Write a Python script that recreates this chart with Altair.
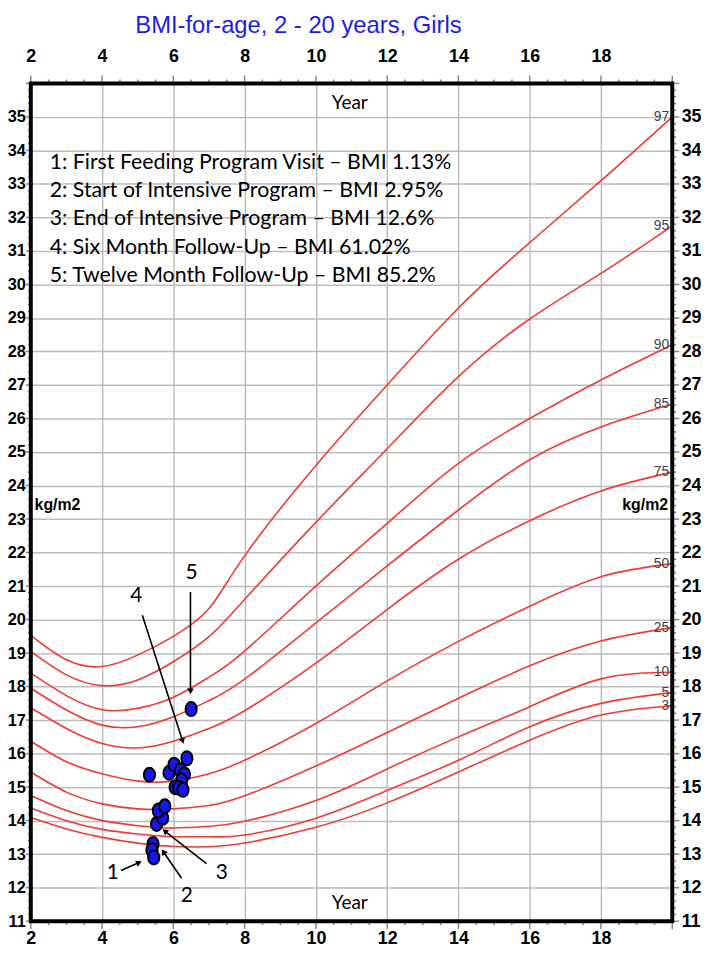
import pandas as pd
import numpy as np
import altair as alt

# BMI percentile curves for girls (kg/m2)
ages = [2, 3, 4, 5, 6, 7, 8, 10, 12, 14, 16, 18, 20]
p97 = [19.53, 18.80, 18.60, 18.94, 19.50, 20.33, 21.90, 24.60, 27.00, 29.30, 31.25, 33.10, 35.00]
p95 = [19.05, 18.35, 18.03, 18.20, 18.74, 19.49, 20.60, 22.90, 25.10, 27.25, 28.97, 30.33, 31.75]
p90 = [18.40, 17.73, 17.31, 17.35, 17.68, 18.28, 19.06, 21.00, 22.87, 24.66, 26.00, 27.15, 28.20]
p85 = [17.95, 17.30, 16.85, 16.80, 17.10, 17.58, 18.22, 19.90, 21.60, 23.27, 24.77, 25.75, 26.43]
p75 = [17.37, 16.75, 16.30, 16.17, 16.37, 16.75, 17.28, 18.70, 20.30, 21.80, 22.95, 23.84, 24.40]
p50 = [16.37, 15.76, 15.40, 15.18, 15.18, 15.40, 15.80, 16.90, 18.17, 19.35, 20.40, 21.28, 21.67]
p25 = [15.45, 14.85, 14.50, 14.35, 14.35, 14.45, 14.74, 15.63, 16.63, 17.65, 18.62, 19.36, 19.76]
p10 = [14.75, 14.30, 14.00, 13.85, 13.78, 13.83, 13.98, 14.60, 15.54, 16.50, 17.40, 18.23, 18.43]
p5 = [14.38, 14.00, 13.74, 13.60, 13.52, 13.52, 13.57, 14.07, 14.90, 15.80, 16.80, 17.50, 17.82]
p3 = [14.09, 13.75, 13.50, 13.33, 13.23, 13.22, 13.33, 13.80, 14.53, 15.45, 16.40, 17.15, 17.43]
pct_names = ["97", "95", "90", "85", "75", "50", "25", "10", "5", "3"]
pct_series = [p97, p95, p90, p85, p75, p50, p25, p10, p5, p3]
pct_label_shift = [-2, -1, -1, 0, 0, 0, 0, -3, 3, 10]

# the child's visits
visit_age = [5.43, 5.40, 5.45, 5.53, 5.70, 5.58, 5.76, 5.33, 5.88, 6.02,
             6.38, 6.20, 6.31, 6.23, 6.05, 6.15, 6.27, 6.50]
visit_bmi = [13.30, 13.12, 12.90, 13.90, 14.08, 14.30, 14.43, 15.37, 15.43, 15.67,
             15.86, 15.50, 15.38, 15.20, 15.00, 14.98, 14.92, 17.33]

# numbered arrows
arrow_num = ["1", "2", "3", "4", "5"]
arrow_tail_age = [4.53, 6.23, 6.93, 5.13, 6.48]
arrow_tail_bmi = [12.51, 12.28, 12.72, 20.13, 20.82]
arrow_head_age = [5.04, 5.72, 5.76, 6.26, 6.48]
arrow_head_bmi = [12.75, 13.07, 13.69, 16.38, 17.86]
num_age = [4.30, 6.38, 7.36, 4.96, 6.51]
num_bmi = [12.43, 11.74, 12.43, 20.71, 21.39]

legend_lines = [
    "1: First Feeding Program Visit \u2013 BMI 1.13%",
    "2: Start of Intensive Program \u2013 BMI 2.95%",
    "3: End of Intensive Program \u2013 BMI 12.6%",
    "4: Six Month Follow-Up \u2013 BMI 61.02%",
    "5: Twelve Month Follow-Up \u2013 BMI 85.2%",
]
legend_bmi = [33.63, 32.80, 31.94, 31.10, 30.25]

# axis ticks: labelled every 2 years / 1 kg/m2, small ticks every 0.5 year / 0.2 kg/m2
x_major = [2, 4, 6, 8, 10, 12, 14, 16, 18, 20]
x_minor = [2.5, 3, 3.5, 4.5, 5, 5.5, 6.5, 7, 7.5, 8.5, 9, 9.5, 10.5, 11, 11.5, 12.5, 13, 13.5,
           14.5, 15, 15.5, 16.5, 17, 17.5, 18.5, 19, 19.5]
y_major = list(range(11, 37))
y_minor = [round(v + f, 1) for v in range(11, 36) for f in (0.2, 0.4, 0.6, 0.8)]

W, H = 647, 845
bold_font = "Liberation Sans, Arial, sans-serif"
body = "Lato, Open Sans, sans-serif"
tick_grey = "#8a8a8a"

rows = []
for name, vals in zip(pct_names, pct_series):
    for a, b in zip(ages, vals):
        rows.append({"pct": name, "age": a, "bmi": b})
curves = pd.DataFrame(rows)

ends = pd.DataFrame({
    "pct": pct_names,
    "age": [ages[-1]] * len(pct_names),
    "bmi": [s[-1] for s in pct_series],
    "shift": pct_label_shift,
})

visits = pd.DataFrame({"age": visit_age, "bmi": visit_bmi})

arrows = pd.DataFrame({
    "num": arrow_num,
    "a0": arrow_tail_age, "b0": arrow_tail_bmi,
    "a1": arrow_head_age, "b1": arrow_head_bmi,
})
# rotation of the arrow heads on screen
px_x, px_y = W / 18, H / 25
arrows["ang"] = np.degrees(np.arctan2((arrows.a1 - arrows.a0) * px_x,
                                      (arrows.b1 - arrows.b0) * px_y)) % 360
nums = pd.DataFrame({"num": arrow_num, "age": num_age, "bmi": num_bmi})

legend = pd.DataFrame({"txt": legend_lines, "age": [2.53] * 5, "bmi": legend_bmi})
year_words = pd.DataFrame({"txt": ["Year", "Year"], "age": [10.95, 10.95], "bmi": [35.41, 11.54]})
unit_words = pd.DataFrame({"txt": ["kg/m2", "kg/m2"], "age": [2.75, 19.24], "bmi": [23.43, 23.43]})

xs = alt.Scale(domain=[2, 20], nice=False, zero=False)
ys = alt.Scale(domain=[11, 36], nice=False, zero=False)


def x_axis(orient, grid, pad):
    return alt.Axis(
        orient=orient, values=x_major, format="d", title=None, domain=False, ticks=False,
        labelExpr="datum.value < 20 ? datum.label : ''",
        labelFont=bold_font, labelFontSize=18, labelFontWeight="bold", labelColor="black",
        labelPadding=pad, labelOverlap=False, labelFlush=False,
        grid=grid, gridColor="#bdbdbd", gridWidth=1.5,
        gridOpacity={"condition": {"test": "datum.value > 2 && datum.value < 20", "value": 1}, "value": 0},
    )


def y_axis(orient, grid, pad, size):
    return alt.Axis(
        orient=orient, values=y_major, format="d", title=None, domain=False, ticks=False,
        labelExpr="datum.value < 36 ? datum.label : ''",
        labelFont=bold_font, labelFontSize=size, labelFontWeight="bold", labelColor="black",
        labelPadding=pad, labelOverlap=False, labelFlush=False,
        grid=grid, gridColor="#bdbdbd", gridWidth=1.5,
        gridOpacity={"condition": {"test": "datum.value > 11 && datum.value < 36", "value": 1}, "value": 0},
    )


lines = alt.Chart(curves).mark_line(color="#ee3b36", strokeWidth=1.6, interpolate="natural").encode(
    x=alt.X("age:Q", scale=xs, axis=x_axis("bottom", True, 9)),
    y=alt.Y("bmi:Q", scale=ys, axis=y_axis("left", True, 5.5, 16.5)),
    detail="pct:N",
)

pct_text = alt.Chart(ends).mark_text(
    align="right", baseline="middle", dx=-3, font=bold_font, fontSize=14, color="#444444"
).encode(
    x=alt.X("age:Q", scale=xs, axis=x_axis("top", False, 18)),
    y=alt.Y("bmi:Q", scale=ys, axis=y_axis("right", False, 9, 18)),
    yOffset=alt.YOffset("shift:Q", scale=None),
    text="pct:N",
)


def tick_layer(vals, side, length):
    df = pd.DataFrame({"t": vals})
    base = alt.Chart(df).mark_rule(color=tick_grey, strokeWidth=1.5)
    if side in ("top", "bottom"):
        y0 = 0 if side == "top" else H
        y1 = -length if side == "top" else H + length
        return base.encode(x=alt.X("t:Q", scale=xs, axis=None), y=alt.value(y0), y2=alt.value(y1))
    x0 = 0 if side == "left" else W
    x1 = -length if side == "left" else W + length
    return base.encode(y=alt.Y("t:Q", scale=ys, axis=None), x=alt.value(x0), x2=alt.value(x1))


ticks = [
    tick_layer(x_major, "top", 8), tick_layer(x_minor, "top", 4),
    tick_layer(x_major, "bottom", 8), tick_layer(x_minor, "bottom", 4),
    tick_layer(y_major, "left", 5), tick_layer(y_minor, "left", 3),
    tick_layer(y_major, "right", 7), tick_layer(y_minor, "right", 4),
]

dot_shape = "M -0.8 0 A 0.8 1 0 1 1 0.8 0 A 0.8 1 0 1 1 -0.8 0 Z"
dots = alt.Chart(visits).mark_point(
    shape=dot_shape, filled=True, fill="#1616f0", stroke="black", strokeWidth=2,
    size=200, opacity=1
).encode(
    x=alt.X("age:Q", scale=xs, axis=None),
    y=alt.Y("bmi:Q", scale=ys, axis=None),
)

arrow_lines = alt.Chart(arrows).mark_rule(color="black", strokeWidth=1.6).encode(
    x=alt.X("a0:Q", scale=xs, axis=None), y=alt.Y("b0:Q", scale=ys, axis=None),
    x2="a1:Q", y2="b1:Q",
)
arrow_heads = alt.Chart(arrows).mark_point(
    shape="triangle-up", filled=True, color="black", size=45, opacity=1
).encode(
    x=alt.X("a1:Q", scale=xs, axis=None), y=alt.Y("b1:Q", scale=ys, axis=None),
    angle=alt.Angle("ang:Q", scale=None),
)
num_text = alt.Chart(nums).mark_text(font=body, fontSize=21, color="black").encode(
    x=alt.X("age:Q", scale=xs, axis=None), y=alt.Y("bmi:Q", scale=ys, axis=None),
    text="num:N",
)

legend_text = alt.Chart(legend).mark_text(
    align="left", baseline="middle", font=body, fontSize=21.5, color="black"
).encode(
    x=alt.X("age:Q", scale=xs, axis=None), y=alt.Y("bmi:Q", scale=ys, axis=None),
    text="txt:N",
)

year_text = alt.Chart(year_words).mark_text(
    baseline="middle", font=body, fontSize=19, color="black"
).encode(
    x=alt.X("age:Q", scale=xs, axis=None), y=alt.Y("bmi:Q", scale=ys, axis=None),
    text="txt:N",
)
unit_text = alt.Chart(unit_words).mark_text(
    baseline="middle", font=bold_font, fontSize=16, fontWeight="bold", color="black"
).encode(
    x=alt.X("age:Q", scale=xs, axis=None), y=alt.Y("bmi:Q", scale=ys, axis=None),
    text="txt:N",
)

frame = alt.Chart(alt.Data(values=[{}])).mark_rect(
    fillOpacity=0, stroke="black", strokeWidth=4
).encode(x=alt.value(0), x2=alt.value(W), y=alt.value(0), y2=alt.value(H))

title = alt.Chart(alt.Data(values=[{}])).mark_text(
    text="BMI-for-age, 2 - 20 years, Girls", font=bold_font, fontSize=24,
    color="#1c1cf0", baseline="middle"
).encode(x=alt.value(270), y=alt.value(-58))

chart = alt.layer(
    lines, pct_text, *ticks, arrow_lines, arrow_heads, dots, num_text, legend_text,
    year_text, unit_text, frame, title
).resolve_axis(x="independent", y="independent").properties(
    width=W, height=H,
    autosize=alt.AutoSizeParams(type="none"),
    padding={"left": 23, "top": 72, "right": 29, "bottom": 24},
).configure_view(strokeWidth=0)

chart.save("out.html", embed_options={"renderer": "svg", "actions": False})
